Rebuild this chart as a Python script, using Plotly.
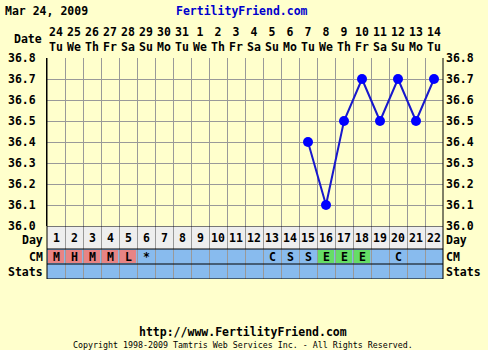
import plotly.graph_objects as go

# ---- data ----
dates = ["24", "25", "26", "27", "28", "29", "30", "31", "1", "2", "3",
         "4", "5", "6", "7", "8", "9", "10", "11", "12", "13", "14"]
weekdays = ["Tu", "We", "Th", "Fr", "Sa", "Su", "Mo", "Tu", "We", "Th", "Fr",
            "Sa", "Su", "Mo", "Tu", "We", "Th", "Fr", "Sa", "Su", "Mo", "Tu"]
days = list(range(1, 23))
temp_days = [15, 16, 17, 18, 19, 20, 21, 22]
temps = [36.4, 36.1, 36.5, 36.7, 36.5, 36.7, 36.5, 36.7]
cm_values = ["M", "H", "M", "M", "L", "*", "", "", "", "", "", "",
             "C", "S", "S", "E", "E", "E", "", "C", "", ""]
temp_ticks = [36.0, 36.1, 36.2, 36.3, 36.4, 36.5, 36.6, 36.7, 36.8]
row_labels = ["Day", "CM", "Stats"]

# ---- styles ----
BG = "#ffffcc"
GRID = "#999999"
DAYROW = "#eeeeee"
BLUEROW = "#88bbee"
PINK = "#e88484"
GREEN = "#66dd66"
FONT = "DejaVu Sans Mono"
W, H = 488, 350
L, R, T, B = 47, 45, 58, 71
PH = H - T - B  # plot height in px


def py(ypix):
    return (H - B - ypix) / PH


def px(xpix):
    return (xpix - L) / (W - L - R)


table_h = (H - B) - 226  # px of table region
fig = go.Figure()

fig.add_trace(go.Scatter(
    x=temp_days, y=temps, mode="lines+markers",
    line=dict(color="#1818cc", width=2),
    marker=dict(color="#0000ff", size=10),
    xaxis="x", yaxis="y", showlegend=False, hoverinfo="x+y"))

# invisible trace to anchor the table subplot
fig.add_trace(go.Scatter(x=[days[0]], y=[0], mode="markers",
                         marker=dict(opacity=0), xaxis="x2", yaxis="y2",
                         showlegend=False, hoverinfo="skip"))

half_ticks = [d - 0.5 for d in days] + [days[-1] + 0.5]
xcommon = dict(range=[0.5, 22.5], tickvals=half_ticks, showticklabels=False,
               showgrid=True, gridcolor=GRID, gridwidth=1, zeroline=False,
               ticks="", fixedrange=True, automargin=False)

fig.update_layout(
    width=W, height=H, margin=dict(l=L, r=R, t=T, b=B, autoexpand=False),
    paper_bgcolor=BG, plot_bgcolor=BG,
    xaxis=dict(**xcommon, anchor="y", domain=[0, 1]),
    xaxis2=dict(**xcommon, anchor="y2", domain=[0, 1], matches="x"),
    yaxis=dict(domain=[table_h / PH, 1], range=[36.0, 36.8],
               tickvals=temp_ticks, ticktext=[f"{v:.1f}" for v in temp_ticks],
               tickfont=dict(family=FONT, size=11.5, color="#000000", weight="bold"),
               showgrid=True, gridcolor=GRID, zeroline=False, ticks="",
               ticklabelstandoff=8, showline=True, linecolor="#000000",
               automargin=False),
    yaxis2=dict(domain=[0, table_h / PH], range=[0, table_h], showgrid=False,
                showticklabels=False, zeroline=False, ticks="", automargin=False),
    showlegend=False,
)

shapes = []
# row backgrounds (table rows: Day 30..53, CM 15..30, Stats 0..15 in px units)
rows = [(30, table_h, DAYROW), (15, 30, BLUEROW), (0, 15, BLUEROW)]
for y0, y1, c in rows:
    shapes.append(dict(type="rect", xref="x2", yref="y2", x0=0.5, x1=22.5,
                       y0=y0, y1=y1, fillcolor=c, line_width=0, layer="below"))
# CM cell fills
for d, v in zip(days, cm_values):
    col = PINK if v in ("M", "H", "L") else GREEN if v == "E" else None
    if col:
        shapes.append(dict(type="rect", xref="x2", yref="y2", x0=d - 0.45,
                           x1=d + 0.45, y0=16, y1=29, fillcolor=col,
                           line_width=0, layer="between"))
# black lines
for yv in [table_h, 30, 15, 0]:
    shapes.append(dict(type="line", xref="x2", yref="y2", x0=0.5, x1=22.5,
                       y0=yv, y1=yv, line=dict(color="#000000", width=1)))
shapes.append(dict(type="line", xref="paper", yref="paper", x0=0, x1=0,
                   y0=0, y1=1, line=dict(color="#000000", width=1)))
shapes.append(dict(type="line", xref="paper", yref="paper", x0=1, x1=1,
                   y0=0, y1=1, line=dict(color="#000000", width=1)))
fig.update_layout(shapes=shapes)

ann = []
bold = dict(family=FONT, size=11.5, color="#000000", weight="bold")
small = dict(family=FONT, size=11.5, color="#000000", weight="bold")
for d, dt, wd in zip(days, dates, weekdays):
    ann.append(dict(x=d, y=py(39), xref="x", yref="paper",
                    text=f"{dt}<br>{wd}", showarrow=False, font=small,
                    xanchor="center", yanchor="middle", borderpad=0))
    ann.append(dict(x=d, y=41.5, xref="x2", yref="y2", text=str(d),
                    showarrow=False, font=small, xanchor="center", yanchor="middle"))
for d, v in zip(days, cm_values):
    if v:
        ann.append(dict(x=d, y=22.5, xref="x2", yref="y2", text=v,
                        showarrow=False, font=small, xanchor="center",
                        yanchor="middle"))
ann.append(dict(x=px(44), y=py(39), xref="paper", yref="paper", text="Date",
                showarrow=False, font=bold, xanchor="right", yanchor="middle"))
side_y = [39.5, 22.5, 7.5]
for lab, yv in zip(row_labels, side_y):
    ann.append(dict(x=px(44), y=yv, xref="paper", yref="y2", text=lab,
                    showarrow=False, font=bold, xanchor="right",
                    yanchor="middle", borderpad=0))
    ann.append(dict(x=px(445), y=yv, xref="paper", yref="y2", text=lab,
                    showarrow=False, font=bold, xanchor="left",
                    yanchor="middle", borderpad=0))
for v in temp_ticks:
    ann.append(dict(x=px(445), y=v, xref="paper", yref="y", text=f"{v:.1f}",
                    showarrow=False, font=bold, xanchor="left",
                    yanchor="middle", borderpad=0))
ann.append(dict(x=px(3), y=py(11), xref="paper", yref="paper",
                text="Mar 24, 2009", showarrow=False, font=small,
                xanchor="left", yanchor="middle"))
ann.append(dict(x=px(242), y=py(11), xref="paper", yref="paper",
                text="FertilityFriend.com", showarrow=False,
                font=dict(family=FONT, size=11.5, color="#0000cc", weight="bold"),
                xanchor="center", yanchor="middle"))
ann.append(dict(x=px(243), y=py(332), xref="paper", yref="paper",
                text="http://www.FertilityFriend.com", showarrow=False,
                font=small, xanchor="center", yanchor="middle"))
ann.append(dict(x=px(243), y=py(345), xref="paper", yref="paper",
                text="Copyright 1998-2009 Tamtris Web Services Inc. - All Rights Reserved.",
                showarrow=False,
                font=dict(family=FONT, size=8.3, color="#000000"),
                xanchor="center", yanchor="middle"))
fig.update_layout(annotations=ann)

fig.write_html("out.html")
